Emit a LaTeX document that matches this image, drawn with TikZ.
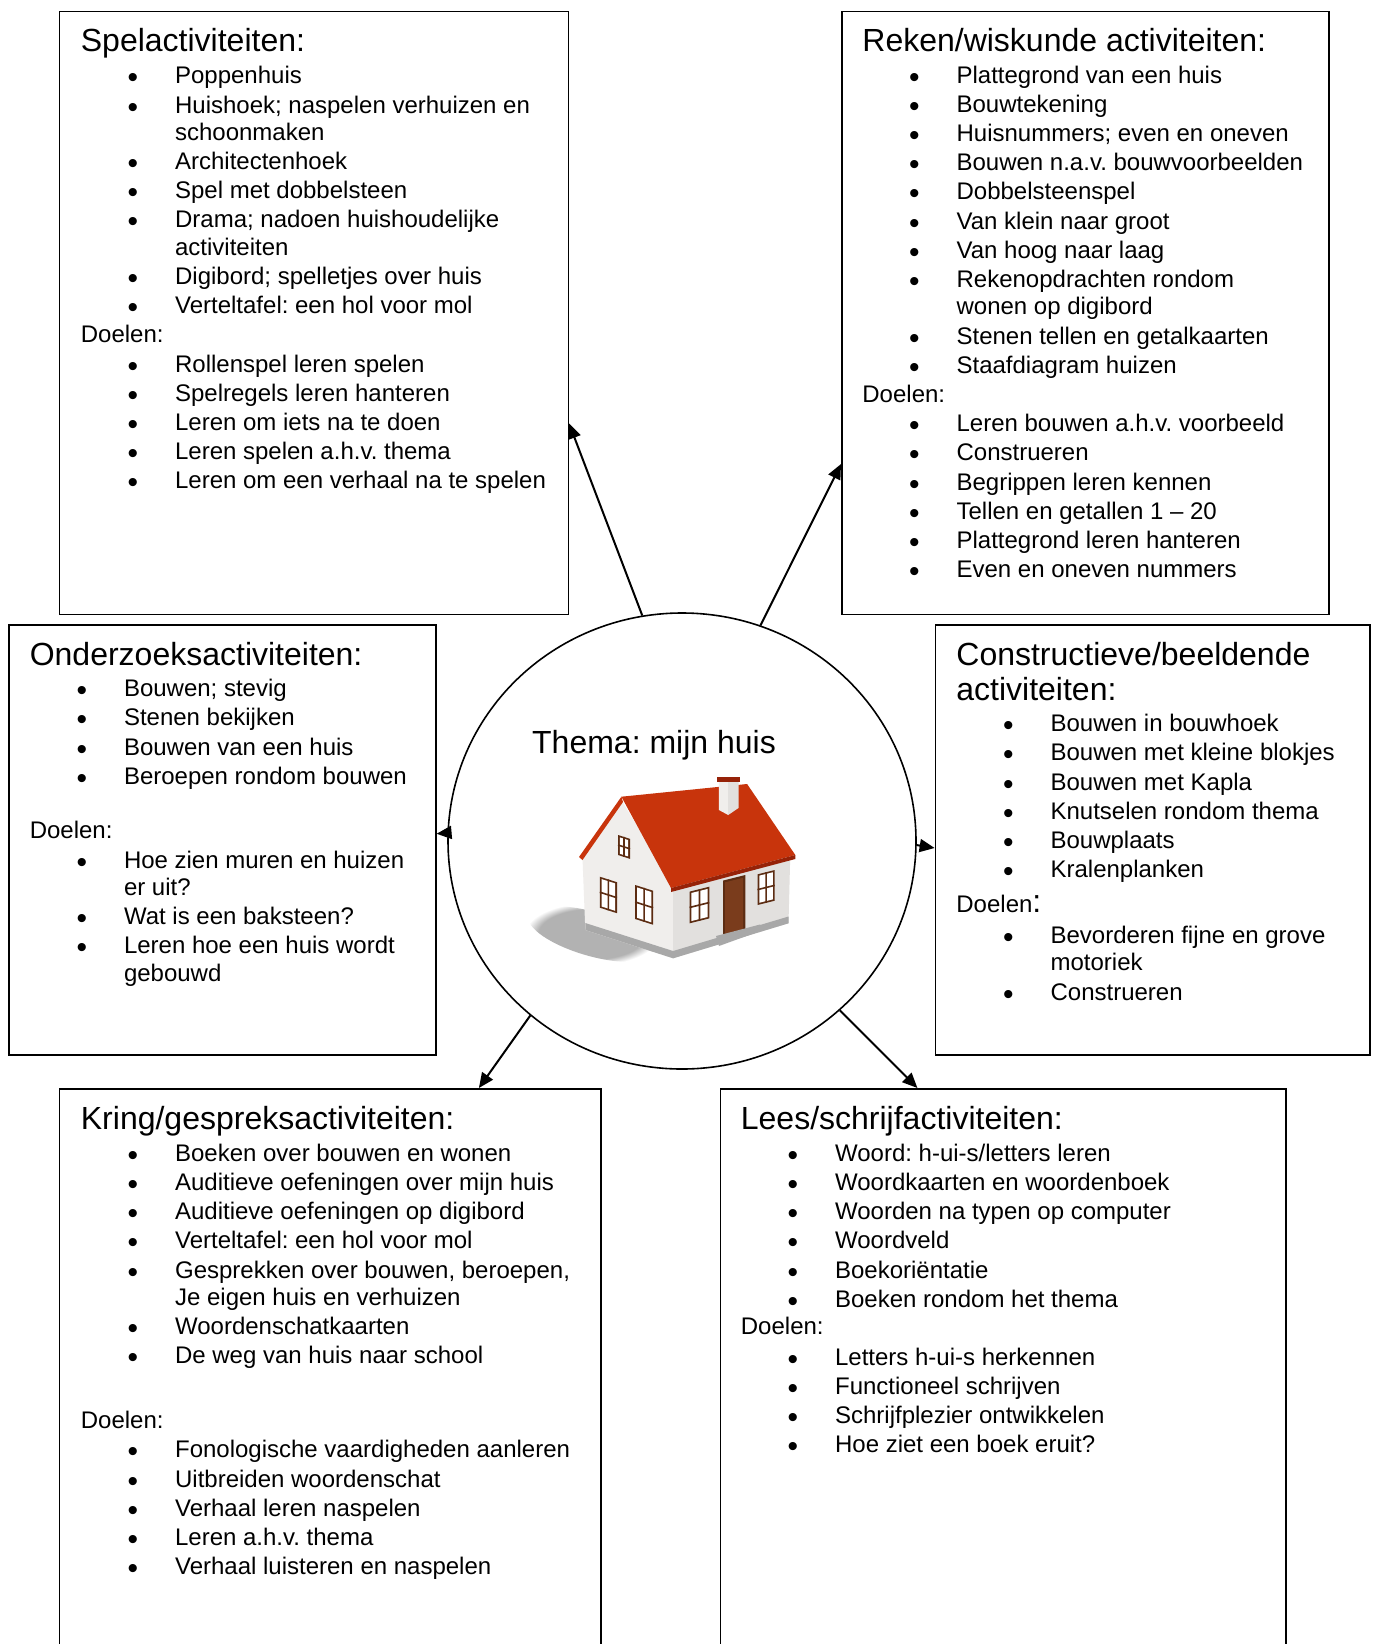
\documentclass[tikz,border=0pt]{standalone}
\usepackage{fontspec}
\setmainfont{Liberation Sans}
\usetikzlibrary{shapes.geometric,arrows.meta,calc,fadings}
\frenchspacing

\definecolor{dak}{RGB}{200,52,12}
\definecolor{dakrand}{RGB}{150,34,8}
\definecolor{gevel}{RGB}{240,238,236}
\definecolor{muur}{RGB}{226,224,222}
\definecolor{plint}{RGB}{168,168,168}
\definecolor{kozijn}{RGB}{92,44,18}
\definecolor{deur}{RGB}{122,60,28}

\newcommand{\itm}{\hspace*{23.4pt}\makebox[23.7pt][l]{\raisebox{-2pt}{\fontsize{15pt}{15pt}\selectfont\textbullet}}}
\newcommand{\vrv}{\hspace*{47.1pt}}
\newcommand{\nxt}{\\[0.95pt]}
\newcommand{\raam}[5]{%
  \begin{scope}[shift={(#1,#2)}, yslant=#5]
    \fill[kozijn] (0,0) rectangle (#3,#4);
    \fill[white] (1.8,1.8) rectangle ({#3-1.8},{#4-1.8});
    \draw[kozijn, line width=0.8pt] ({#3/2},0) -- ({#3/2},#4) (0,{#4/2}) -- (#3,{#4/2});
  \end{scope}}

\tikzset{
  vak/.style={draw, line width=0.8pt, inner sep=0pt, anchor=north west},
  kop/.style={font=\fontsize{16pt}{17.5pt}\selectfont, inner sep=0pt, anchor=base west},
  lijst/.style={font=\fontsize{12pt}{13.65pt}\selectfont, inner sep=0pt, anchor=base west},
  pijl/.style={-{Triangle[length=7.5pt,width=6.5pt]}, line width=1pt},
}

\begin{document}
\begin{tikzpicture}[x=0.5pt, y=-0.5pt]
  \path[use as bounding box, fill=white] (0,0) rectangle (1374,1644);

  % huis
  \fill[black!30, path fading=circle with fuzzy edge 20 percent, rotate around={-16:(592,934)}]
    (592,934) ellipse [x radius=66, y radius=22];
  \fill[gevel] (582.5,858) -- (621.4,800) -- (673.1,886) -- (673.1,958.3) -- (585.3,930) -- cycle;
  \fill[muur] (673.1,886) -- (790.2,857) -- (788.5,923.3) -- (673.1,958.3) -- cycle;
  \fill[plint] (585.3,923) -- (673.1,951) -- (788.5,916.5) -- (788.5,923.3) -- (673.1,958.3) -- (585.3,930) -- cycle;
  \fill[dak] (621.4,796.7) -- (747.1,784) -- (795.3,855) -- (671,888) -- cycle;
  \fill[dakrand] (671,888) -- (795.3,855) -- (795.3,859) -- (671,892) -- cycle;
  \fill[dak] (621.4,796.7) -- (579,857) -- (582.5,860) -- (623,802) -- cycle;
  \fill[gevel] (718.9,781.7) -- (728.2,781.7) -- (728.2,815) -- (718.9,810) -- cycle;
  \fill[muur] (728.2,781.7) -- (738.5,781.7) -- (738.5,808) -- (728.2,815) -- cycle;
  \fill[dakrand] (716.8,776.7) rectangle (739.6,782);
  \raam{618}{835}{12}{20}{-0.32}
  \raam{599.8}{876.7}{17.2}{31}{-0.32}
  \raam{635.2}{885}{17.9}{34}{-0.32}
  \raam{689.6}{891.6}{19.7}{31.7}{0.25}
  \raam{757.5}{874.3}{17.2}{30.7}{0.25}
  \begin{scope}[shift={(723,880.6)}, yslant=0.25]
    \fill[kozijn] (0,0) rectangle (22.4,54.4);
    \fill[deur] (2.2,2.2) rectangle (20.2,54.4);
  \end{scope}
  \fill[plint] (716,936) -- (760,924.5) -- (763,930) -- (719,946) -- cycle;

  \node[draw, ellipse, line width=0.8pt, minimum width=234pt, minimum height=228pt, inner sep=0pt] (thema) at (682,841) {};
  \node[kop, anchor=base] (titel) at (654,753) {Thema: mijn huis};

  \node[vak, minimum width=254.4pt, minimum height=301.55pt] (spel) at (58.7,10.5) {};
  \node[vak, minimum width=243.5pt, minimum height=301.55pt] (reken) at (841,10.5) {};
  \node[vak, minimum width=213.3pt, minimum height=215pt] (onderzoek) at (8.4,624) {};
  \node[vak, minimum width=217.2pt, minimum height=215pt] (constr) at (934.6,624) {};
  \node[vak, minimum width=270.65pt, minimum height=320pt] (kring) at (58.7,1088) {};
  \node[vak, minimum width=282.75pt, minimum height=320pt] (lees) at (719.5,1088) {};

  \node[kop] (spelkop) at (80.5,51.5) {Spelactiviteiten:};
  \node[lijst] (spellijst) at (80.5,83.8) {\parbox[t]{300pt}{%
    \itm Poppenhuis\nxt
    \itm Huishoek; naspelen verhuizen en\\
    \vrv schoonmaken\nxt
    \itm Architectenhoek\nxt
    \itm Spel met dobbelsteen\nxt
    \itm Drama; nadoen huishoudelijke\\
    \vrv activiteiten\nxt
    \itm Digibord; spelletjes over huis\nxt
    \itm Verteltafel: een hol voor mol\nxt
    Doelen:\nxt
    \itm Rollenspel leren spelen\nxt
    \itm Spelregels leren hanteren\nxt
    \itm Leren om iets na te doen\nxt
    \itm Leren spelen a.h.v. thema\nxt
    \itm Leren om een verhaal na te spelen}};

  \node[kop] (rekenkop) at (862,51.5) {Reken/wiskunde activiteiten:};
  \node[lijst] (rekenlijst) at (862,83.1) {\parbox[t]{300pt}{%
    \itm Plattegrond van een huis\nxt
    \itm Bouwtekening\nxt
    \itm Huisnummers; even en oneven\nxt
    \itm Bouwen n.a.v. bouwvoorbeelden\nxt
    \itm Dobbelsteenspel\nxt
    \itm Van klein naar groot\nxt
    \itm Van hoog naar laag\nxt
    \itm Rekenopdrachten rondom\\
    \vrv wonen op digibord\nxt
    \itm Stenen tellen en getalkaarten\nxt
    \itm Staafdiagram huizen\nxt
    Doelen:\nxt
    \itm Leren bouwen a.h.v. voorbeeld\nxt
    \itm Construeren\nxt
    \itm Begrippen leren kennen\nxt
    \itm Tellen en getallen 1 – 20\nxt
    \itm Plattegrond leren hanteren\nxt
    \itm Even en oneven nummers}};

  \node[kop] (onderzoekkop) at (29.4,665) {Onderzoeksactiviteiten:};
  \node[lijst] (onderzoeklijst) at (29.4,696.7) {\parbox[t]{300pt}{%
    \itm Bouwen; stevig\nxt
    \itm Stenen bekijken\nxt
    \itm Bouwen van een huis\nxt
    \itm Beroepen rondom bouwen\\[13.6pt]
    Doelen:\nxt
    \itm Hoe zien muren en huizen\\
    \vrv er uit?\nxt
    \itm Wat is een baksteen?\nxt
    \itm Leren hoe een huis wordt\\
    \vrv gebouwd}};

  \node[kop] (constrkop) at (956,665) {\parbox[t]{210pt}{Constructieve/beeldende\\activiteiten:}};
  \node[lijst] (constrlijst) at (956,731.7) {\parbox[t]{300pt}{%
    \itm Bouwen in bouwhoek\nxt
    \itm Bouwen met kleine blokjes\nxt
    \itm Bouwen met Kapla\nxt
    \itm Knutselen rondom thema\nxt
    \itm Bouwplaats\nxt
    \itm Kralenplanken\\[3.9pt]
    Doelen{\fontsize{16pt}{17.5pt}\selectfont:}\\[1.6pt]
    \itm Bevorderen fijne en grove\\
    \vrv motoriek\\[1.3pt]
    \itm Construeren}};

  \node[kop] (kringkop) at (80.5,1129) {Kring/gespreksactiviteiten:};
  \node[lijst] (kringlijst) at (80.5,1161.2) {\parbox[t]{300pt}{%
    \itm Boeken over bouwen en wonen\nxt
    \itm Auditieve oefeningen over mijn huis\nxt
    \itm Auditieve oefeningen op digibord\nxt
    \itm Verteltafel: een hol voor mol\nxt
    \itm Gesprekken over bouwen, beroepen,\\
    \vrv Je eigen huis en verhuizen\nxt
    \itm Woordenschatkaarten\nxt
    \itm De weg van huis naar school\\[18.85pt]
    Doelen:\nxt
    \itm Fonologische vaardigheden aanleren\nxt
    \itm Uitbreiden woordenschat\nxt
    \itm Verhaal leren naspelen\nxt
    \itm Leren a.h.v. thema\nxt
    \itm Verhaal luisteren en naspelen}};

  \node[kop] (leeskop) at (740.5,1129) {Lees/schrijfactiviteiten:};
  \node[lijst] (leeslijst) at (740.5,1161.2) {\parbox[t]{300pt}{%
    \itm Woord: h-ui-s/letters leren\nxt
    \itm Woordkaarten en woordenboek\nxt
    \itm Woorden na typen op computer\nxt
    \itm Woordveld\nxt
    \itm Boekoriëntatie\nxt
    \itm Boeken rondom het thema\\
    Doelen:\\[1.6pt]
    \itm Letters h-ui-s herkennen\nxt
    \itm Functioneel schrijven\nxt
    \itm Schrijfplezier ontwikkelen\nxt
    \itm Hoe ziet een boek eruit?}};

  \draw[pijl] (thema.100) -- ($(spel.north east)!0.683!(spel.south east)$);
  \draw[pijl] (thema.70) -- ($(reken.north west)!0.75!(reken.south west)$);
  \draw[pijl] (thema.178) -- ($(onderzoek.north east)!0.486!(onderzoek.south east)$);
  \draw[pijl] (thema.-1) -- ($(constr.north west)!0.519!(constr.south west)$);
  \draw[pijl] (thema.229) -- ($(kring.north west)!0.774!(kring.north east)$);
  \draw[pijl] (thema.-47) -- ($(lees.north west)!0.349!(lees.north east)$);
\end{tikzpicture}
\end{document}
